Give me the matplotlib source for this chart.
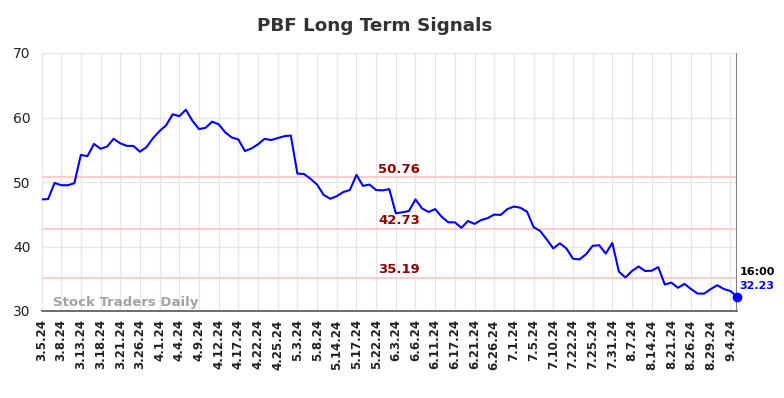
import matplotlib
matplotlib.use("Agg")
import matplotlib.pyplot as plt

# values
values = [
    47.3, 47.35, 49.85, 49.5, 49.5, 49.8, 54.2, 54.0, 55.9, 55.15,
    55.5, 56.7, 56.0, 55.6, 55.6, 54.7, 55.4, 56.8, 57.9, 58.8,
    60.5, 60.2, 61.2, 59.5, 58.2, 58.4, 59.35, 58.95, 57.7, 56.9,
    56.6, 54.8, 55.2, 55.85, 56.7, 56.5, 56.8, 57.1, 57.2, 51.3,
    51.25, 50.5, 49.6, 48.0, 47.4, 47.8, 48.45, 48.75, 51.1, 49.4,
    49.6, 48.75, 48.7, 48.9, 45.15, 45.3, 45.5, 47.3, 45.9, 45.35,
    45.8, 44.6, 43.75, 43.75, 42.9, 43.95, 43.5, 44.1, 44.4, 44.95,
    44.9, 45.8, 46.2, 46.0, 45.4, 43.0, 42.4, 41.1, 39.7, 40.5,
    39.7, 38.1, 38.0, 38.8, 40.1, 40.2, 38.9, 40.55, 36.1, 35.2,
    36.2, 36.9, 36.2, 36.25, 36.8, 34.1, 34.4, 33.6, 34.2, 33.4,
    32.7, 32.7, 33.4, 34.0, 33.4, 33.1, 32.23,
]
tick_labels = [
    "3.5.24", "3.8.24", "3.13.24", "3.18.24", "3.21.24", "3.26.24",
    "4.1.24", "4.4.24", "4.9.24", "4.12.24", "4.17.24", "4.22.24",
    "4.25.24", "5.3.24", "5.8.24", "5.14.24", "5.17.24", "5.22.24",
    "6.3.24", "6.6.24", "6.11.24", "6.17.24", "6.21.24", "6.26.24",
    "7.1.24", "7.5.24", "7.10.24", "7.22.24", "7.25.24", "7.31.24",
    "8.7.24", "8.14.24", "8.21.24", "8.26.24", "8.29.24", "9.4.24",
]
levels = [50.76, 42.73, 35.19]
last_time = "16:00"

fig = plt.figure(figsize=(7.84, 3.98), dpi=100)
ax = fig.add_axes([41.5 / 784, 1 - 311 / 398, 695.5 / 784, 258 / 398])

x = list(range(len(values)))
n = len(values) - 1

for lv in levels:
    ax.axhline(lv, color="#ffcccc", lw=1.5, zorder=1)
    ax.text(54.5, lv + 1.25, f"{lv:.2f}", color="#8b0000", fontsize=9.5,
            fontweight="bold", ha="center", va="center", zorder=3)

ax.plot(x, values, color="#0000ff", lw=1.5, zorder=2)
ax.plot([n], [values[-1]], "o", color="#0000ff", ms=6, zorder=4, clip_on=False)
ax.axvline(n, color="#808080", lw=1.5, zorder=1)

ax.text(n + 0.4, values[-1] + 3.8, last_time, fontsize=8, fontweight="bold",
        color="black", ha="left", va="center")
ax.text(n + 0.4, values[-1] + 1.65, f"{values[-1]:.2f}", fontsize=8,
        fontweight="bold", color="#0000ff", ha="left", va="center")

ax.text(1.8, 31.3, "Stock Traders Daily", fontsize=9.5, fontweight="bold",
        color="#999999", alpha=0.9, ha="left", va="center")

ax.set_xlim(0, n)
ax.set_ylim(30, 70)
ax.set_yticks([30, 40, 50, 60, 70])
ax.set_xticks(range(0, len(tick_labels) * 3, 3))
ax.set_xticklabels(tick_labels, rotation=90, fontsize=8.5, fontweight="bold")
ax.tick_params(axis="both", length=0, colors="#222222")
ax.tick_params(axis="x", pad=6)
ax.tick_params(axis="y", labelsize=10, pad=8)
ax.grid(True, color="#e6e6e6", lw=1)
ax.set_axisbelow(True)
for side in ["top", "right", "left"]:
    ax.spines[side].set_visible(False)
ax.spines["bottom"].set_color("#555555")
ax.spines["bottom"].set_linewidth(1.2)

fig.text(375 / 784, 1 - 26 / 398, "PBF Long Term Signals", fontsize=13.2,
         fontweight="bold", color="#333333", ha="center", va="center")

fig.savefig("out.png", dpi=100)
